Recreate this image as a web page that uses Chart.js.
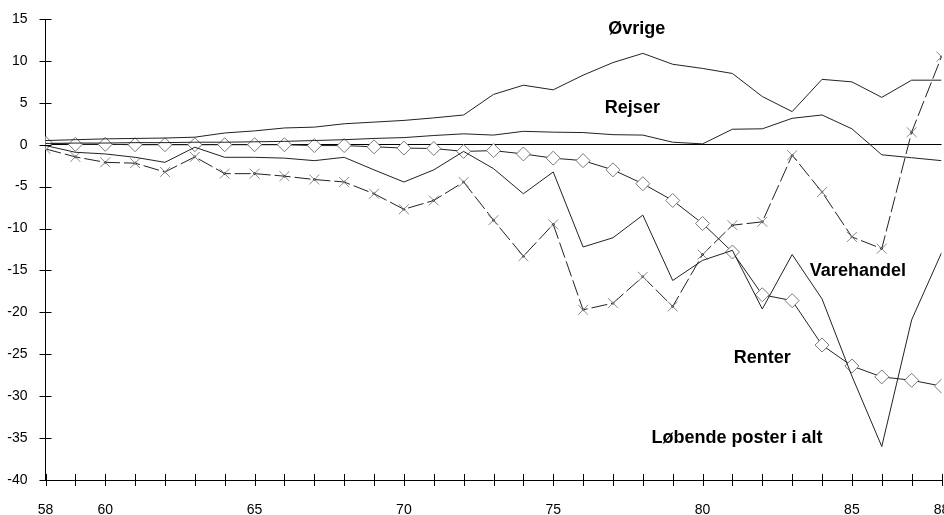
<!DOCTYPE html>
<html>
<head>
<meta charset="utf-8">
<script src="https://cdn.jsdelivr.net/npm/chart.js@4/dist/chart.umd.min.js"></script>
<style>
  body { margin: 0; background: #fff; }
  canvas { display: block; }
</style>
</head>
<body>
<canvas id="chart" width="944" height="515"></canvas>
<script>
// Danish current account items, 1958-88 (pct / mia. kr.)
const years = [58, 59, 60, 61, 62, 63, 64, 65, 66, 67, 68, 69, 70, 71, 72, 73, 74, 75, 76, 77, 78, 79, 80, 81, 82, 83, 84, 85, 86, 87, 88];

const ovrige     = [0.5, 0.6, 0.7, 0.75, 0.8, 0.9, 1.4, 1.65, 2.0, 2.1, 2.5, 2.7, 2.9, 3.2, 3.55, 6.0, 7.1, 6.55, 8.3, 9.8, 10.9, 9.6, 9.1, 8.5, 5.75, 3.95, 7.8, 7.5, 5.65, 7.7, 7.7];
const rejser     = [0.15, 0.2, 0.2, 0.25, 0.25, 0.3, 0.3, 0.35, 0.4, 0.5, 0.6, 0.75, 0.85, 1.1, 1.3, 1.15, 1.6, 1.5, 1.45, 1.2, 1.15, 0.3, 0.1, 1.85, 1.9, 3.15, 3.55, 1.9, -1.2, -1.55, -1.9];
const varehandel = [-0.5, -1.45, -2.1, -2.2, -3.25, -1.45, -3.45, -3.45, -3.75, -4.15, -4.45, -5.85, -7.7, -6.65, -4.45, -9.0, -13.3, -9.5, -19.7, -18.9, -15.75, -19.3, -13.1, -9.6, -9.2, -1.25, -5.65, -11.0, -12.4, 1.5, 10.5];
const renter     = [0.2, 0.05, 0.05, 0, 0, 0, 0, 0, 0, -0.1, -0.1, -0.25, -0.4, -0.45, -0.8, -0.7, -1.1, -1.6, -1.9, -3.0, -4.65, -6.65, -9.4, -12.8, -17.9, -18.6, -23.9, -26.4, -27.7, -28.1, -28.8];
const lobende    = [-0.1, -0.9, -1.1, -1.5, -2.1, -0.3, -1.5, -1.5, -1.6, -1.9, -1.5, -3.0, -4.45, -3.0, -0.8, -2.85, -5.85, -3.25, -12.2, -11.1, -8.4, -16.2, -13.8, -12.6, -19.6, -13.1, -18.4, -27.6, -36.0, -20.9, -12.9];

const xTickLabels = [58, 60, 65, 70, 75, 80, 85, 88];
const yTicks = [-40, -35, -30, -25, -20, -15, -10, -5, 0, 5, 10, 15];

// series names written on the plot, placed in data units (year, value)
const seriesLabels = [
  { text: 'Øvrige', year: 77.8, value: 13.8 },
  { text: 'Rejser', year: 77.65, value: 4.4 },
  { text: 'Varehandel', year: 85.2, value: -15.1 },
  { text: 'Renter', year: 82.0, value: -25.4 },
  { text: 'Løbende poster i alt', year: 81.15, value: -35.0 }
];

const FONT = "'Liberation Sans', Arial, Helvetica, sans-serif";

function toPoints(values) {
  return years.map((yr, i) => ({ x: yr, y: values[i] }));
}

// axis tick marks that cross the axis line, plus the text labels
const axisMarks = {
  id: 'axisMarks',
  afterDraw(chart) {
    const { ctx, scales } = chart;
    const x = scales.x, y = scales.y;
    ctx.save();
    ctx.strokeStyle = '#000';
    ctx.lineWidth = 1;
    ctx.beginPath();
    years.forEach(yr => {
      const px = Math.round(x.getPixelForValue(yr)) + 0.5;
      ctx.moveTo(px, y.bottom - 6);
      ctx.lineTo(px, y.bottom + 6);
    });
    yTicks.forEach(v => {
      const py = Math.round(y.getPixelForValue(v)) + 0.5;
      ctx.moveTo(x.left - 6, py);
      ctx.lineTo(x.left + 6, py);
    });
    ctx.stroke();

    ctx.fillStyle = '#000';
    ctx.font = 'bold 18px ' + FONT;
    ctx.textAlign = 'center';
    ctx.textBaseline = 'middle';
    seriesLabels.forEach(l => {
      ctx.fillText(l.text, x.getPixelForValue(l.year), y.getPixelForValue(l.value));
    });
    ctx.restore();
  }
};

const lineBase = {
  borderColor: '#222',
  borderWidth: 1,
  tension: 0,
  fill: false
};

new Chart(document.getElementById('chart'), {
  type: 'line',
  data: {
    datasets: [
      { ...lineBase, label: 'Øvrige', data: toPoints(ovrige), pointRadius: 0 },
      { ...lineBase, label: 'Rejser', data: toPoints(rejser), pointRadius: 0 },
      { ...lineBase, label: 'Løbende poster i alt', data: toPoints(lobende), pointRadius: 0 },
      {
        ...lineBase, label: 'Renter', data: toPoints(renter),
        pointStyle: 'rectRot', pointRadius: 7,
        pointBackgroundColor: '#fff', pointBorderColor: '#777', pointBorderWidth: 1
      },
      {
        ...lineBase, label: 'Varehandel', data: toPoints(varehandel),
        borderDash: [16, 4],
        pointStyle: 'crossRot', pointRadius: 7,
        pointBorderColor: '#888', pointBorderWidth: 1
      },
      {
        label: 'Varehandel punkt', data: toPoints(varehandel),
        showLine: false, pointStyle: 'circle', pointRadius: 1.3,
        pointBackgroundColor: '#111', pointBorderWidth: 0
      }
    ]
  },
  options: {
    responsive: false,
    animation: false,
    layout: { autoPadding: false, padding: { top: 19, right: 2.5, left: 0, bottom: 0 } },
    plugins: {
      legend: { display: false },
      tooltip: { enabled: false }
    },
    scales: {
      x: {
        type: 'linear',
        min: 58,
        max: 88,
        grid: { display: false },
        border: { display: true, color: '#000', width: 1 },
        ticks: {
          stepSize: 1,
          autoSkip: false,
          maxRotation: 0,
          padding: 14,
          color: '#000',
          font: { family: FONT, size: 14 },
          callback: v => xTickLabels.includes(v) ? String(v) : ''
        },
        afterFit(scale) {
          scale.height = 35;
          scale.paddingLeft = 0;
          scale.paddingRight = 0;
        }
      },
      y: {
        min: -40,
        max: 15,
        grid: {
          drawTicks: false,
          color: ctx => ctx.tick && ctx.tick.value === 0 ? '#000' : 'rgba(0,0,0,0)',
          lineWidth: 1
        },
        border: { display: true, color: '#000', width: 1 },
        ticks: {
          stepSize: 5,
          padding: 18,
          color: '#000',
          font: { family: FONT, size: 14 }
        },
        afterFit(scale) {
          scale.width = 45.5;
          scale.paddingTop = 0;
          scale.paddingBottom = 0;
        }
      }
    }
  },
  plugins: [axisMarks]
});
</script>
</body>
</html>
